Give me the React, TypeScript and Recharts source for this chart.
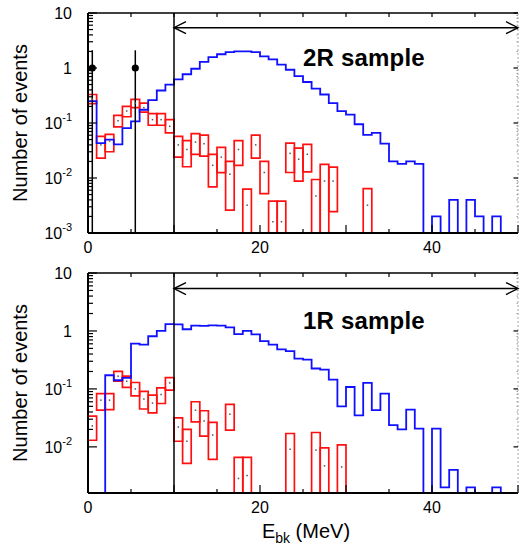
import React from 'react'
import {
  ComposedChart,
  Line,
  Scatter,
  XAxis,
  YAxis,
  ReferenceArea,
  ReferenceLine,
  ReferenceDot,
  ErrorBar,
} from 'recharts'

// bin edges in MeV (1 MeV bins)
const binEdges = [
  0, 1, 2, 3, 4, 5, 6, 7, 8, 9, 10, 11, 12, 13, 14, 15, 16, 17, 18, 19, 20, 21, 22, 23, 24, 25,
  26, 27, 28, 29, 30, 31, 32, 33, 34, 35, 36, 37, 38, 39, 40, 41, 42, 43, 44, 45, 46, 47, 48, 49, 50,
]

// blue histogram, one value per bin (0 = empty bin)
const blue2R = [
  0.25, 0.043, 0.05, 0.041, 0.081, 0.107, 0.174, 0.26, 0.39, 0.5,
  0.62, 0.77, 0.97, 1.29, 1.58, 1.78, 1.95, 2.0, 2.0, 1.95,
  1.63, 1.44, 1.15, 0.93, 0.71, 0.556, 0.42, 0.33, 0.23, 0.165,
  0.142, 0.095, 0.061, 0.066, 0.042, 0.02, 0.018, 0.02, 0.018, 0,
  0.002, 0, 0.004, 0, 0.004, 0.002, 0, 0.002, 0, 0,
]
const blue1R = [
  0, 0, 0.172, 0.141, 0.155, 0.605, 0.58, 0.81, 1.0, 1.31,
  1.3, 1.07, 1.24, 1.22, 1.25, 1.24, 1.15, 0.88, 1.0, 0.87,
  0.67, 0.58, 0.48, 0.45, 0.334, 0.32, 0.225, 0.216, 0.145, 0.05,
  0.108, 0.035, 0.127, 0.043, 0.083, 0.0237, 0.02, 0.044, 0.0207, 0,
  0.0207, 0.002, 0.004, 0, 0.002, 0, 0, 0.002, 0, 0,
]

// red boxes: bin index, lower edge, upper edge, central value (0 lower = below axis)
const red2RBin = [0, 1, 2, 3, 4, 5, 6, 7, 8, 9, 10, 11, 12, 13, 14, 15, 16, 17, 18, 19, 20, 21, 22, 23, 24, 25, 26, 27, 28, 32]
const red2RLow = [
  0.225, 0.023, 0.03, 0.085, 0.13, 0.19, 0.158, 0.091, 0.091, 0.066,
  0.024, 0.016, 0.027, 0.025, 0.0069, 0.0125, 0.0026, 0.017, 0, 0.023,
  0.0052, 0, 0, 0.0126, 0.0088, 0.0129, 0, 0, 0.00245, 0,
]
const red2RHigh = [
  0.33, 0.057, 0.062, 0.138, 0.2, 0.27, 0.23, 0.148, 0.148, 0.115,
  0.057, 0.048, 0.064, 0.06, 0.027, 0.036, 0.02, 0.048, 0.0063, 0.06,
  0.02, 0.0038, 0.0038, 0.043, 0.035, 0.041, 0.0094, 0.0177, 0.0158, 0.0064,
]
const red2RMid = [
  0.27, 0.04, 0.047, 0.11, 0.165, 0.23, 0.19, 0.115, 0.115, 0.087,
  0.04, 0.033, 0.045, 0.042, 0.017, 0.024, 0.0117, 0.033, 0.0032, 0.04,
  0.0126, 0.0016, 0.0016, 0.028, 0.022, 0.027, 0.0047, 0.0088, 0.0088, 0.0032,
]

const red1RBin = [0, 1, 2, 3, 4, 5, 6, 7, 8, 9, 10, 11, 12, 13, 14, 16, 17, 18, 23, 26, 27, 29]
const red1RLow = [
  0.013, 0.043, 0.044, 0.136, 0.106, 0.076, 0.045, 0.0385, 0.056, 0.095,
  0.0125, 0.0052, 0.027, 0.0153, 0.0061, 0.0194, 0, 0, 0, 0, 0, 0,
]
const red1RHigh = [
  0.034, 0.083, 0.083, 0.2, 0.166, 0.129, 0.091, 0.078, 0.104, 0.157,
  0.0316, 0.02, 0.06, 0.042, 0.0264, 0.054, 0.0066, 0.0066, 0.017, 0.0177, 0.0096, 0.0108,
]
const red1RMid = [
  0.023, 0.064, 0.064, 0.166, 0.136, 0.1, 0.067, 0.057, 0.08, 0.127,
  0.022, 0.0125, 0.043, 0.028, 0.016, 0.0366, 0.00285, 0.0032, 0.0091, 0.0088, 0.0047, 0.0045,
]

// black data points (2R only)
const dataE = [0.5, 5.5]
const dataVal = [1, 1]
const dataLow = [0.001, 0.001]
const dataHigh = [2.1, 2.1]

const xTicks = [0, 5, 10, 15, 20, 25, 30, 35, 40, 45, 50]
const xLabelled = [0, 20, 40]
const topTicks = [5, 10, 15, 20, 25, 30, 35, 40, 45]
const decades2R = [0.001, 0.01, 0.1, 1, 10]
const decades1R = [0.01, 0.1, 1, 10]
const minorSteps = [2, 3, 4, 5, 6, 7, 8, 9]

const FONT = '"Liberation Sans", Arial, Helvetica, sans-serif'
const FLOOR = 1e-5 // empty bins / open lower edges fall below the axis and get clipped
const BLUE = '#1010ff'
const RED = '#ff1010'

function logTicks(decades: number[], yMin: number) {
  const out: number[] = []
  decades.forEach((d) => {
    if (d >= yMin) out.push(d)
    if (d < 10) minorSteps.forEach((m) => {
      const v = +(d * m).toPrecision(3)
      if (v >= yMin && v <= 10) out.push(v)
    })
  })
  return out
}

function isDecade(v: number) {
  const l = Math.log10(v)
  return Math.abs(l - Math.round(l)) < 1e-6
}

const LeftTick = (p: any) => {
  const { x, y, payload } = p
  const v = payload.value
  const major = isDecade(v)
  const ex = Math.round(Math.log10(v))
  return (
    <g>
      <line x1={x} x2={x + (major ? 9 : 5)} y1={y} y2={y} stroke="#000" strokeWidth={1.2} />
      {major && (
        <text x={x - 16} y={y + 6} textAnchor="end" fontSize={16} fontFamily={FONT} fill="#000">
          {ex === 0 ? '1' : '10'}
          {ex < 0 && (
            <tspan dy={-8} fontSize={11}>
              {ex}
            </tspan>
          )}
        </text>
      )}
    </g>
  )
}

const RightTick = (p: any) => {
  const { x, y, payload } = p
  const major = isDecade(payload.value)
  return major ? (
    <line x1={x} x2={x - 4.5} y1={y} y2={y} stroke="#000" strokeWidth={1.2} />
  ) : (
    <line x1={x} x2={x - 1.5} y1={y} y2={y} stroke="#999" strokeWidth={1} />
  )
}

const BottomTick = (p: any) => {
  const { x, y, payload } = p
  const v = payload.value
  const major = v % 10 === 0
  return (
    <g>
      <line x1={x} x2={x} y1={y} y2={y - (major ? 8 : 4)} stroke="#000" strokeWidth={1.2} />
      {xLabelled.includes(v) && (
        <text x={x} y={y + 20} textAnchor="middle" fontSize={16} fontFamily={FONT} fill="#000">
          {v}
        </text>
      )}
    </g>
  )
}

const TopTick = (p: any) => {
  const { x, y } = p
  return <line x1={x} x2={x} y1={y} y2={y + 4} stroke="#000" strokeWidth={1.2} />
}

const YTitle = (p: any) => {
  const vb = p.viewBox
  const cx = vb.x + 20
  const cy = vb.y + vb.height / 2
  return (
    <text
      x={cx}
      y={cy}
      transform={`rotate(-90 ${cx} ${cy})`}
      textAnchor="middle"
      dominantBaseline="central"
      fontSize={20}
      fontFamily={FONT}
      fill="#000"
    >
      Number of events
    </text>
  )
}

const XTitle = (p: any) => {
  const vb = p.viewBox
  return (
    <text x={vb.x + vb.width / 2 + 3} y={vb.y + 45} textAnchor="middle" fontSize={20} fontFamily={FONT} fill="#000">
      E
      <tspan dy={5} fontSize={14}>
        bk
      </tspan>
      <tspan dy={-5}> (MeV)</tspan>
    </text>
  )
}

const DoubleArrow = (p: any) => {
  const { x1, y1, x2, y2 } = p
  return (
    <g>
      <line x1={x1} y1={y1} x2={x2} y2={y2} stroke="#000" strokeWidth={1.4} />
      <polyline points={`${x1 + 12},${y1 - 6} ${x1},${y1} ${x1 + 12},${y1 + 6}`} fill="none" stroke="#000" strokeWidth={1.4} />
      <polyline points={`${x2 - 12},${y2 - 6} ${x2},${y2} ${x2 - 12},${y2 + 6}`} fill="none" stroke="#000" strokeWidth={1.4} />
    </g>
  )
}

const SmallDot = (p: any) => <rect x={p.cx - 0.75} y={p.cy - 0.75} width={1.5} height={1.5} fill="#555" />
const BigDot = (p: any) => <circle cx={p.cx} cy={p.cy} r={3.6} fill="#000" />

interface PanelProps {
  blue: number[]
  redBin: number[]
  redLow: number[]
  redHigh: number[]
  redMid: number[]
  decades: number[]
  yMin: number
  title: string
  height: number
  bottomAxisHeight: number
  withPoints: boolean
  withXTitle: boolean
}

function Panel(props: PanelProps) {
  const { blue, redBin, redLow, redHigh, redMid, decades, yMin, title, height, bottomAxisHeight, withPoints, withXTitle } = props
  const steps = binEdges.map((e, i) => ({ e, v: blue[Math.min(i, blue.length - 1)] || FLOOR }))
  const mids = redBin.map((b, i) => ({ e: b + 0.5, v: redMid[i] }))
  const points = dataE.map((e, i) => ({ e, v: dataVal[i], err: [dataVal[i] - dataLow[i], dataHigh[i] - dataVal[i]] }))
  const yTicks = logTicks(decades, yMin)

  return (
    <ComposedChart width={522} height={height} data={steps} margin={{ top: 12, right: 3, bottom: 0, left: 0 }}>
      <XAxis
        dataKey="e"
        type="number"
        domain={[0, 50]}
        ticks={xTicks}
        interval={0}
        allowDataOverflow
        tickSize={0}
        tickMargin={0}
        tickLine={false}
        tick={<BottomTick />}
        height={bottomAxisHeight}
        axisLine={{ stroke: '#000', strokeWidth: 2 }}
        label={withXTitle ? (p: any) => <XTitle {...p} /> : undefined}
      />
      <XAxis
        xAxisId="top"
        dataKey="e"
        orientation="top"
        type="number"
        domain={[0, 50]}
        ticks={topTicks}
        interval={0}
        tickSize={0}
        tickMargin={0}
        tickLine={false}
        tick={<TopTick />}
        height={1}
        axisLine={{ stroke: '#000', strokeWidth: 1.5 }}
      />
      <YAxis
        scale="log"
        domain={[yMin, 10]}
        allowDataOverflow
        ticks={yTicks}
        interval={0}
        tickSize={0}
        tickMargin={0}
        tickLine={false}
        tick={<LeftTick />}
        width={88}
        axisLine={{ stroke: '#000', strokeWidth: 2 }}
        label={(p: any) => <YTitle {...p} />}
      />
      <YAxis
        yAxisId="right"
        orientation="right"
        scale="log"
        domain={[yMin, 10]}
        allowDataOverflow
        ticks={yTicks}
        interval={0}
        tickSize={0}
        tickMargin={0}
        tickLine={false}
        tick={<RightTick />}
        width={1}
        axisLine={{ stroke: '#aaa', strokeWidth: 1, strokeDasharray: '2 2' }}
      />
      {redBin.map((b, i) => (
        <ReferenceArea
          key={`r${b}`}
          x1={b}
          x2={b + 1}
          y1={redLow[i] || FLOOR}
          y2={redHigh[i]}
          fill="none"
          stroke={RED}
          strokeWidth={1.7}
          strokeOpacity={1}
          fillOpacity={0}
          ifOverflow="hidden"
        />
      ))}
      <Line type="stepAfter" dataKey="v" stroke={BLUE} strokeWidth={1.8} dot={false} isAnimationActive={false} />
      <Scatter data={mids} dataKey="v" shape={<SmallDot />} isAnimationActive={false} />
      <ReferenceLine x={10} stroke="#000" strokeWidth={1.5} />
      <ReferenceLine
        segment={[
          { x: 10, y: 5.4 },
          { x: 50, y: 5.4 },
        ]}
        ifOverflow="visible"
        shape={(p: any) => <DoubleArrow {...p} />}
      />
      {withPoints && (
        <Scatter data={points} dataKey="v" shape={<BigDot />} isAnimationActive={false}>
          <ErrorBar dataKey="err" direction="y" width={0} stroke="#000" strokeWidth={1.5} />
        </Scatter>
      )}
      <ReferenceDot
        x={25}
        y={1.1}
        r={0}
        ifOverflow="visible"
        shape={(p: any) => (
          <text x={p.cx} y={p.cy} fontSize={24} fontWeight="bold" fontFamily={FONT} fill="#000" letterSpacing={0.2}>
            {title}
          </text>
        )}
      />
    </ComposedChart>
  )
}

export default function App() {
  return (
    <div style={{ position: 'absolute', left: 0, top: 0, width: 522, height: 548, background: '#fff' }}>
      <div style={{ position: 'absolute', left: 0, top: 0 }}>
        <Panel
          blue={blue2R}
          redBin={red2RBin}
          redLow={red2RLow}
          redHigh={red2RHigh}
          redMid={red2RMid}
          decades={decades2R}
          yMin={0.001}
          title="2R sample"
          height={260}
          bottomAxisHeight={27}
          withPoints
          withXTitle={false}
        />
      </div>
      <div style={{ position: 'absolute', left: 0, top: 260 }}>
        <Panel
          blue={blue1R}
          redBin={red1RBin}
          redLow={red1RLow}
          redHigh={red1RHigh}
          redMid={red1RMid}
          decades={decades1R}
          yMin={0.0016}
          title="1R sample"
          height={288}
          bottomAxisHeight={55}
          withPoints={false}
          withXTitle
        />
      </div>
    </div>
  )
}
